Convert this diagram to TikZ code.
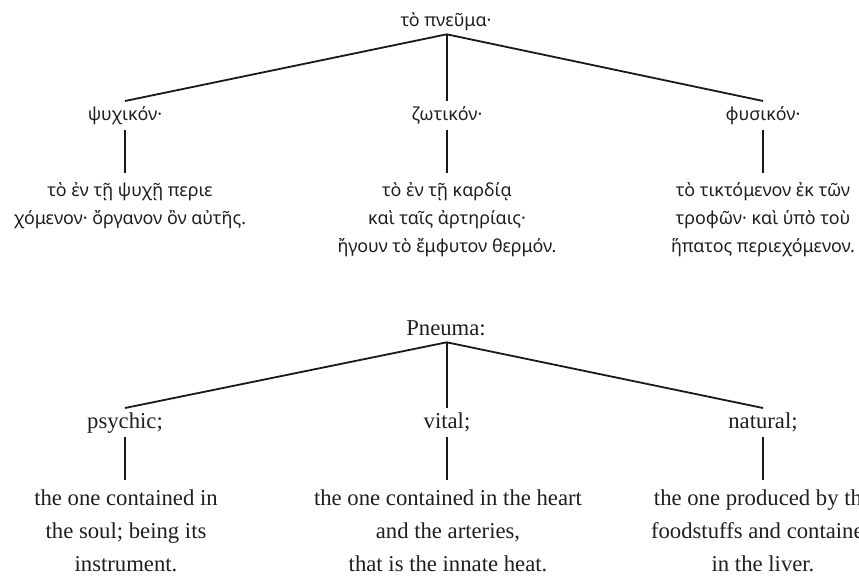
\documentclass[tikz,border=0pt]{standalone}
\usepackage{fontspec}
\setmainfont{Liberation Serif}
\newfontfamily\greekfont{Noto Sans}
\begin{document}
\begin{tikzpicture}[x=1pt,y=-1pt,
  eng/.style={font=\fontsize{22.7}{33}\selectfont, anchor=base, inner sep=0pt, align=center, text=black!88},
  grk/.style={font=\greekfont\fontsize{17.9}{28}\selectfont, anchor=base, inner sep=0pt, align=center, text=black!88},
  branch/.style={line width=1.8pt, black!90}]
\useasboundingbox (0,0) rectangle (859,578);
\clip (0,0) rectangle (859,578);

% ---- Greek tree ----
% multi-line nodes are placed by the baseline of their last line
\node[grk] (groot) at (446,27) {τὸ πνεῦμα·};
\coordinate (gj) at (446.7,34.3);
\node[grk] (gpsy) at (125,120) {ψυχικόν·};
\node[grk] (gvit) at (447,120) {ζωτικόν·};
\node[grk] (gnat) at (763,120) {φυσικόν·};
\coordinate (gpsyT) at (125,101);
\coordinate (gvitT) at (446.7,101);
\coordinate (gnatT) at (763,101);
\node[grk] (gpsyL) at (130,224) {τὸ ἐν τῇ ψυχῇ περιε\\χόμενον· ὄργανον ὂν αὐτῆς.};
\node[grk] (gvitL) at (447,252) {τὸ ἐν τῇ καρδίᾳ\\καὶ ταῖς ἀρτηρίαις·\\ἤγουν τὸ ἔμφυτον θερμόν.};
\node[grk] (gnatL) at (763,252) {τὸ τικτόμενον ἐκ τῶν\\τροφῶν· καὶ ὑπὸ τοὺ\\ἥπατος περιεχόμενον.};

\draw[branch] (gj) -- (gpsyT);
\draw[branch] (gj) -- (gvitT);
\draw[branch] (gj) -- (gnatT);
\draw[branch] (gpsy.south |- 0,130) -- (gpsy.south |- 0,173);
\draw[branch] (gvit.south |- 0,130) -- (gvit.south |- 0,173);
\draw[branch] (gnat.south |- 0,130) -- (gnat.south |- 0,173);

% ---- English tree ----
\node[eng] (eroot) at (446,335) {Pneuma:};
\coordinate (ej) at (446.7,342.3);
\node[eng] (epsy) at (125,428) {psychic;};
\node[eng] (evit) at (447,428) {vital;};
\node[eng] (enat) at (763,428) {natural;};
\coordinate (epsyT) at (125,408);
\coordinate (evitT) at (446.7,408);
\coordinate (enatT) at (763,408);
\node[eng] (epsyL) at (126,571) {the one contained in\\the soul; being its\\instrument.};
\node[eng] (evitL) at (448,571) {the one contained in the heart\\and the arteries,\\that is the innate heat.};
\node[eng] (enatL) at (763,571) {the one produced by the\\foodstuffs and contained\\in the liver.};

\draw[branch] (ej) -- (epsyT);
\draw[branch] (ej) -- (evitT);
\draw[branch] (ej) -- (enatT);
\draw[branch] (epsy.south |- 0,437) -- (epsy.south |- 0,480);
\draw[branch] (evit.south |- 0,437) -- (evit.south |- 0,480);
\draw[branch] (enat.south |- 0,437) -- (enat.south |- 0,480);
\end{tikzpicture}
\end{document}
